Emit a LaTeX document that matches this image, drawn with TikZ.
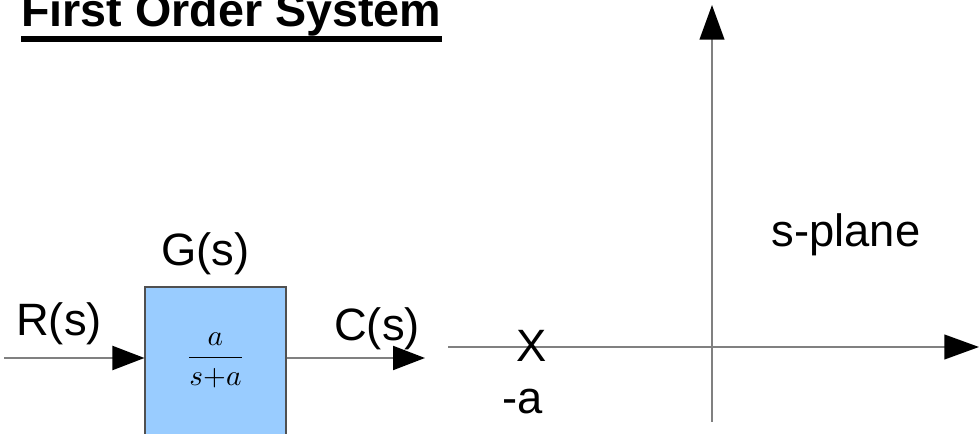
\documentclass[tikz,border=0pt]{standalone}
\usepackage{graphicx}
\usepackage{fontspec}
\setmainfont{Liberation Sans}
\usetikzlibrary{arrows.meta}
\definecolor{sigGray}{RGB}{128,128,128}
\definecolor{boxBlue}{RGB}{153,204,255}
\definecolor{boxGray}{RGB}{80,80,80}

\begin{document}
\begin{tikzpicture}[x=0.75pt,y=-0.75pt,
  sig/.style={draw=sigGray,line width=1.5pt,-{Triangle[length=24pt,width=18pt,color=black]}},
  axis/.style={draw=sigGray,line width=1.6pt,-{Triangle[length=26pt,width=18.5pt,color=black]}},
  block/.style={draw=boxGray,fill=boxBlue,line width=0.8pt,inner sep=0pt,minimum width=105.75pt,minimum height=114.75pt},
  lbl/.style={anchor=base,inner sep=0pt,font=\fontsize{34}{40}\selectfont},
  title/.style={anchor=base west,inner sep=0pt,font=\fontsize{35}{42}\selectfont\bfseries}]
  \path[use as bounding box] (0,0) rectangle (979,434);
  \clip (0,0) rectangle (979,434);

  \node[title] (title) at (21,27) {First Order System};
  \fill ([yshift=-6.75pt]title.base west) rectangle ([yshift=-11.25pt]title.base east);

  \node[block] (plant) at (215.5,363.5) {};
  \node[anchor=base,inner sep=0pt] (tf) at (215.5,365) {\scalebox{2.2}{$\displaystyle\frac{a}{s{+}a}$}};
  \node[lbl] (gs) at (205.5,266) {G(s)};
  \node[lbl] (rs) at (59,336) {R(s)};
  \node[lbl] (cs) at (377,341) {C(s)};

  \coordinate (rin) at (4,358);
  \coordinate (cout) at (425,358);
  \draw[sig] (rin) -- (rin -| plant.west);
  \draw[sig] (plant.east |- cout) -- (cout);

  \coordinate (reL) at (448,347);
  \coordinate (reR) at (979,347);
  \coordinate (imB) at (712,422);
  \coordinate (imT) at (712,5);
  \draw[axis] (reL) -- (reR);
  \draw[axis] (imB) -- (imT);

  \node[lbl] (pole) at (532,362) {X};
  \node[lbl] (ma) at (522.5,414) {-a};
  \node[lbl] (sp) at (846,247) {s-plane};
\end{tikzpicture}
\end{document}
